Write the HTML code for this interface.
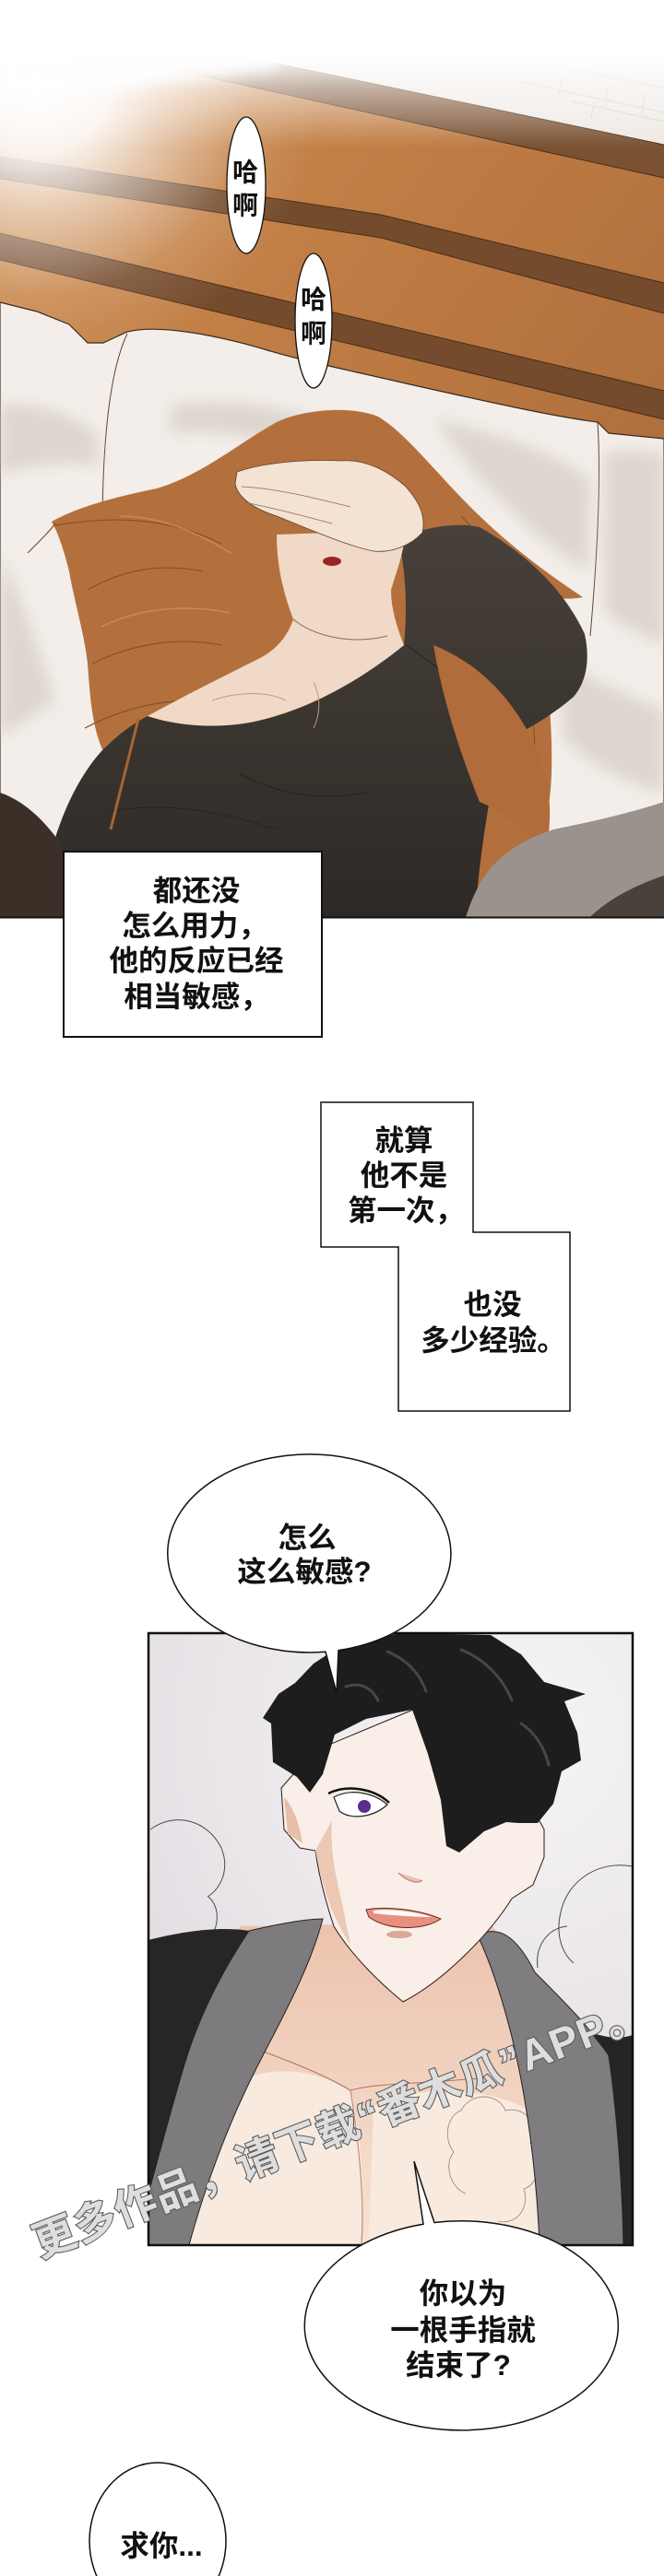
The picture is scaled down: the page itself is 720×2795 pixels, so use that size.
<!DOCTYPE html>
<html><head><meta charset="utf-8">
<style>
html,body{margin:0;padding:0;background:#fff}
svg{display:block}
text{font-family:"Liberation Sans","Noto Sans CJK SC",sans-serif;font-weight:bold;fill:#111}
</style></head>
<body>
<svg width="720" height="2795" viewBox="0 0 720 2795" xmlns="http://www.w3.org/2000/svg">
<defs>
  <linearGradient id="wood" x1="0" y1="0" x2="1" y2="1">
    <stop offset="0" stop-color="#d08f52"/>
    <stop offset="0.5" stop-color="#bb7841"/>
    <stop offset="1" stop-color="#a3673a"/>
  </linearGradient>
  <linearGradient id="fadeV" x1="0" y1="0" x2="0" y2="1">
    <stop offset="0" stop-color="#fff" stop-opacity="1"/>
    <stop offset="0.375" stop-color="#fff" stop-opacity="1"/>
    <stop offset="0.6" stop-color="#fff" stop-opacity="0.55"/>
    <stop offset="1" stop-color="#fff" stop-opacity="0"/>
  </linearGradient>
  <radialGradient id="fadeL" cx="40" cy="90" r="310" gradientUnits="userSpaceOnUse">
    <stop offset="0" stop-color="#fff" stop-opacity="1"/>
    <stop offset="0.25" stop-color="#fff" stop-opacity="0.9"/>
    <stop offset="0.45" stop-color="#fff" stop-opacity="0.55"/>
    <stop offset="0.75" stop-color="#fff" stop-opacity="0.12"/>
    <stop offset="1" stop-color="#fff" stop-opacity="0"/>
  </radialGradient>
  <linearGradient id="cloth" x1="0" y1="0" x2="0" y2="1">
    <stop offset="0" stop-color="#48413b"/>
    <stop offset="1" stop-color="#2e2925"/>
  </linearGradient>
  <radialGradient id="bg2" cx="560" cy="1880" r="560" gradientUnits="userSpaceOnUse">
    <stop offset="0" stop-color="#f6f4f6"/>
    <stop offset="0.6" stop-color="#e9e5e9"/>
    <stop offset="1" stop-color="#dcd7dc"/>
  </radialGradient>
  <linearGradient id="chest" x1="0" y1="0" x2="0" y2="1">
    <stop offset="0" stop-color="#ecc3ad"/>
    <stop offset="1" stop-color="#f6e2d3"/>
  </linearGradient>
  <filter id="blur" x="-20%" y="-20%" width="140%" height="140%"><feGaussianBlur stdDeviation="8"/></filter>
  <clipPath id="c1"><rect x="0" y="0" width="720" height="995"/></clipPath>
  <clipPath id="c2"><rect x="161" y="1772" width="525" height="664"/></clipPath>
</defs>

<rect x="0" y="0" width="720" height="2795" fill="#fff"/>

<!-- ================= PANEL 1 ================= -->
<g clip-path="url(#c1)">
  <rect x="0" y="0" width="720" height="995" fill="url(#wood)"/>
  <polygon points="0,0 720,0 720,157 0,6" fill="#eee9e4"/>
  <g stroke="#d8cfc6" stroke-width="1" fill="none">
    <path d="M560,88 L720,122 M600,70 L720,96 M620,110 L720,132 M610,80 L606,104 M660,92 L656,116 M700,101 L696,125 M645,110 L641,128"/>
  </g>
  <polygon points="0,6 720,157 720,193 0,34" fill="#7a5132"/>
  <polygon points="0,170 413,233 720,307 720,340 413,258 0,194" fill="#744b2c"/>
  <polygon points="0,253 720,424 720,455 0,282" fill="#744b2c"/>
  <g stroke="#4a2e1a" stroke-width="1" fill="none">
    <line x1="0" y1="6" x2="720" y2="157"/>
    <line x1="0" y1="34" x2="720" y2="193"/>
    <polyline points="0,170 413,233 720,307"/>
    <polyline points="0,194 413,258 720,340"/>
    <line x1="0" y1="253" x2="720" y2="424"/>
    <line x1="0" y1="282" x2="720" y2="455"/>
  </g>
  <!-- white fade -->
  <rect x="0" y="0" width="720" height="160" fill="url(#fadeV)"/>
  <rect x="0" y="0" width="720" height="420" fill="url(#fadeL)"/>
  <polygon points="0,0 300,0 300,75 0,110" fill="#fff" opacity="0.9" filter="url(#blur)"/>

  <!-- bed / pillows -->
  <path d="M0,328 L40,338 L75,352 L95,372 L112,372 L125,366 L138,360 C170,352 230,362 290,380 C330,392 380,402 440,416 C520,434 600,452 648,458 L660,470 L720,476 L720,995 L0,995 Z" fill="#f3eee9" stroke="#3b2a1e" stroke-width="1.2"/>
  <path d="M138,362 C120,400 112,470 111,560 C111,600 113,630 116,650" stroke="#5a4535" stroke-width="1" fill="none"/>
  <path d="M648,458 C652,520 648,600 640,690" stroke="#5a4535" stroke-width="1" fill="none"/>
  <g filter="url(#blur)" fill="#cfc6be" opacity="0.6">
    <path d="M0,440 C30,435 70,445 105,470 L108,505 C70,500 30,505 0,515 Z"/>
    <path d="M185,440 C240,430 300,440 340,455 L300,482 C260,472 220,464 185,472 Z"/>
    <path d="M470,455 C540,470 600,490 640,520 L638,620 C600,600 560,560 520,520 Z"/>
    <path d="M655,490 L720,490 L720,700 C700,690 670,680 655,660 Z"/>
    <path d="M0,600 C20,640 40,700 60,760 L0,800 Z"/>
    <path d="M610,720 C650,740 690,760 720,770 L720,860 C680,850 640,830 610,800 Z"/>
  </g>

  <!-- woman: back hair -->
  <path d="M56,566 C80,552 120,540 170,530 C220,515 260,480 300,458 C330,444 380,440 410,452 C440,470 470,510 510,550 C550,590 590,620 632,648 C610,652 590,648 572,642 C590,700 600,770 598,840 C596,890 585,930 560,985 L470,990 L470,800 L120,830 C100,800 98,760 95,720 C92,690 80,650 75,620 C70,600 64,580 56,566 Z" fill="#b3703d"/>
  <g stroke="#86502c" stroke-width="1.2" fill="none">
    <path d="M60,570 C120,560 180,560 240,590"/>
    <path d="M95,640 C130,620 170,610 220,620"/>
    <path d="M100,720 C140,700 190,690 240,700"/>
    <path d="M92,790 C130,770 170,760 210,760"/>
    <path d="M500,560 C540,600 570,640 590,700"/>
    <path d="M560,700 C580,760 585,820 575,880"/>
    <path d="M30,600 C45,585 55,575 60,568"/>
  </g>
  <g stroke="#cf915b" stroke-width="1.5" fill="none" opacity="0.8">
    <path d="M130,560 C170,560 210,575 250,600"/>
    <path d="M110,680 C150,660 200,655 250,665"/>
  </g>
  <!-- clothes -->
  <path d="M40,995 C50,930 70,860 110,815 C130,795 145,785 160,777 C200,790 245,790 280,782 C340,768 395,735 438,700 C442,660 440,620 432,585 C460,572 495,566 520,572 C570,600 612,640 634,688 C640,715 636,740 622,756 C600,775 575,790 545,805 C530,860 520,930 515,995 Z" fill="url(#cloth)"/>
  <g stroke="#22201d" stroke-width="1" fill="none" opacity="0.8">
    <path d="M120,880 C180,870 240,880 300,900"/>
    <path d="M260,840 C300,860 340,870 400,860"/>
    <path d="M440,700 C470,720 500,740 545,805"/>
  </g>
  <path d="M470,700 C520,720 560,760 585,820 C600,860 598,900 590,930 C570,900 545,880 520,870 C500,820 480,760 470,700 Z" fill="#b06c3a"/>
  <path d="M150,780 C140,820 130,860 120,900" stroke="#a86537" stroke-width="3" fill="none"/>
  <!-- skin -->
  <path d="M300,580 C300,620 310,650 318,672 C312,690 300,705 280,715 C240,735 200,755 160,777 C200,790 245,790 280,782 C340,768 395,735 438,700 C430,680 424,660 424,640 C430,620 438,600 440,575 Z" fill="#f0d9c6"/>
  <path d="M318,672 C340,690 380,700 420,690" stroke="#8a6a55" stroke-width="1" fill="none"/>
  <path d="M230,760 C260,750 290,750 310,760 M340,740 C350,760 345,780 340,790" stroke="#c09a85" stroke-width="1" fill="none"/>
  <!-- hand -->
  <path d="M257,512 C285,502 330,498 370,500 C395,498 420,510 440,528 C455,545 462,560 458,578 C445,592 425,600 405,598 C375,592 330,572 300,560 C275,552 258,540 255,525 Z" fill="#f4e2d2" stroke="#5c4030" stroke-width="0.8"/>
  <path d="M262,528 C300,530 340,540 380,550 M265,545 C300,552 330,560 360,568" stroke="#8a6a55" stroke-width="0.8" fill="none"/>
  <ellipse cx="360" cy="609" rx="10" ry="5" fill="#9b2525"/>
  <!-- bottom areas -->
  <path d="M0,860 C30,870 60,900 80,940 L90,995 L0,995 Z" fill="#3b2f28"/>
  <path d="M505,995 C520,950 540,920 600,900 C650,890 690,880 720,870 L720,995 Z" fill="#9a938d"/>
  <path d="M640,995 C660,975 690,960 720,950 L720,995 Z" fill="#4a413a"/>
</g>
<line x1="0" y1="995.5" x2="720" y2="995.5" stroke="#111" stroke-width="2"/>

<!-- "哈啊" bubbles -->
<ellipse cx="267" cy="201" rx="21" ry="74" fill="#fff" stroke="#111" stroke-width="1.3"/>
<text x="266" y="187" font-size="28" text-anchor="middle" dominant-baseline="central">哈</text>
<text x="266" y="223" font-size="28" text-anchor="middle" dominant-baseline="central">啊</text>
<ellipse cx="340" cy="348" rx="20" ry="73" fill="#fff" stroke="#111" stroke-width="1.3"/>
<text x="340" y="325" font-size="28" text-anchor="middle" dominant-baseline="central">哈</text>
<text x="340" y="362" font-size="28" text-anchor="middle" dominant-baseline="central">啊</text>

<!-- Text box 1 -->
<rect x="69" y="924" width="280" height="201" fill="#fff" stroke="#111" stroke-width="2"/>
<g font-size="31.5" text-anchor="middle">
  <text x="213" y="966" dominant-baseline="central">都还没</text>
  <text x="211" y="1004" dominant-baseline="central">怎么用力，</text>
  <text x="213" y="1042" dominant-baseline="central">他的反应已经</text>
  <text x="213" y="1081" dominant-baseline="central">相当敏感，</text>
</g>

<!-- Text box 2 -->
<polygon points="348,1196 513,1196 513,1337 618,1337 618,1531 432,1531 432,1353 348,1353" fill="#fff" stroke="#111" stroke-width="1.5"/>
<g font-size="31.5" text-anchor="middle">
  <text x="438" y="1237" dominant-baseline="central">就算</text>
  <text x="438" y="1275" dominant-baseline="central">他不是</text>
  <text x="440" y="1313" dominant-baseline="central">第一次，</text>
  <text x="534" y="1415" dominant-baseline="central">也没</text>
  <text x="535" y="1454" dominant-baseline="central">多少经验。</text>
</g>

<!-- ================= PANEL 2 ================= -->
<g clip-path="url(#c2)">
  <rect x="161" y="1772" width="525" height="664" fill="url(#bg2)"/>
  <g stroke="#4a4a4a" stroke-width="1" fill="none">
    <path d="M163,1985 C190,1965 225,1975 240,2005 C250,2030 238,2050 225,2058"/>
    <path d="M226,2058 C240,2070 238,2095 222,2110"/>
    <path d="M168,2140 C185,2150 205,2140 215,2125"/>
    <path d="M686,2025 C650,2018 615,2040 608,2075 C602,2100 610,2120 622,2130"/>
    <path d="M615,2090 C595,2092 580,2110 583,2135"/>
  </g>
  <polygon points="260,2090 530,2085 565,2130 585,2250 592,2436 185,2436 200,2320 225,2200" fill="url(#chest)"/>
  <path d="M215,2290 C260,2240 330,2235 380,2270 C395,2330 395,2390 390,2436 L200,2436 Z" fill="#f8eadf"/>
  <path d="M405,2285 C450,2265 520,2260 575,2290 L585,2436 L400,2436 Z" fill="#f8eadf"/>
  <path d="M380,2268 C390,2330 395,2390 392,2436" stroke="#c98a78" stroke-width="1.2" fill="none"/>
  <path d="M270,2220 C310,2235 350,2250 380,2268 C410,2260 440,2262 520,2255" stroke="#b8705e" stroke-width="1" fill="none"/>
  <path d="M500,2290 C510,2270 540,2270 548,2290 C570,2285 585,2305 575,2325 C590,2340 585,2370 568,2375 C575,2395 560,2415 540,2410 M500,2290 C485,2295 480,2320 492,2335 C480,2350 490,2375 505,2380" stroke="#a88878" stroke-width="0.9" fill="none"/>
  <path d="M161,2105 C200,2095 240,2090 270,2095 C240,2140 215,2190 200,2240 C185,2290 172,2340 161,2380 Z" fill="#262626"/>
  <path d="M270,2095 C300,2088 330,2082 350,2082 C335,2140 300,2200 275,2250 C245,2310 220,2380 205,2436 L161,2436 L161,2380 C172,2340 185,2290 200,2240 C215,2190 240,2140 270,2095 Z" fill="#7d7b7e" stroke="#222" stroke-width="1"/>
  <path d="M518,2100 C540,2088 560,2100 580,2140 C610,2170 640,2200 660,2230 C670,2300 675,2380 676,2436 L585,2436 C582,2360 572,2280 555,2210 C545,2170 532,2130 518,2100 Z" fill="#7f7d80" stroke="#222" stroke-width="1"/>
  <path d="M640,2205 C660,2212 675,2212 686,2208 L686,2436 L676,2436 C675,2380 670,2300 660,2230 Z" fill="#252525"/>
  <!-- face -->
  <path d="M305,1940 L340,1900 L460,1850 L560,1930 L590,1985 L590,2015 L578,2045 L555,2060 C530,2100 480,2150 437,2172 C410,2150 380,2120 362,2090 C352,2060 345,2030 342,2008 L325,2005 L308,1985 Z" fill="#f9efe8" stroke="#2a1a14" stroke-width="1"/>
  <path d="M342,2008 C350,2050 360,2080 380,2110 L370,2060 C362,2030 358,2000 360,1975 Z" fill="#ecc8b5"/>
  <path d="M308,1950 C318,1960 325,1980 328,2000 L312,1990 Z" fill="#e7bfa9"/>
  <path d="M362,1950 C380,1940 405,1945 420,1958 C405,1972 380,1975 368,1965 Z" fill="#fff" stroke="#222" stroke-width="1.2"/>
  <circle cx="395" cy="1960" r="7" fill="#5b2d8e"/>
  <path d="M356,1946 C375,1936 405,1940 422,1956" stroke="#111" stroke-width="2.5" fill="none"/>
  <path d="M488,1975 C500,1968 515,1968 528,1975 C515,1990 500,1992 490,1985 Z" fill="#fff" stroke="#222" stroke-width="1.2"/>
  <circle cx="506" cy="1980" r="6" fill="#5b2d8e"/>
  <path d="M432,2032 C440,2040 452,2045 458,2040" stroke="#c49080" stroke-width="1.5" fill="#e8c2b2"/>
  <path d="M397,2072 C420,2068 455,2072 478,2082 C460,2095 420,2095 400,2080 Z" fill="#e8907e" stroke="#6a2a20" stroke-width="1"/>
  <path d="M405,2073 C425,2071 450,2074 468,2080 C450,2080 425,2078 405,2076 Z" fill="#fff"/>
  <ellipse cx="433" cy="2099" rx="14" ry="4" fill="#d8a898"/>
  <!-- hair -->
  <path d="M363,1790 L400,1776 L440,1772 L532,1774 L565,1795 L590,1825 L635,1838 L612,1846 L626,1880 L630,1910 L609,1922 L600,1957 L583,1978 L562,1978 L549,1977 L525,1987 L498,2010 L484,2003 L478,1953 L464,1903 L447,1855 L397,1865 L363,1882 L350,1925 L336,1945 L322,1928 L296,1912 L294,1870 L285,1864 L302,1838 L320,1826 L340,1805 Z" fill="#1d1d1d"/>
  <g stroke="#474747" stroke-width="3" fill="none" stroke-linecap="round">
    <path d="M420,1792 C440,1800 455,1815 462,1835"/>
    <path d="M500,1790 C525,1800 545,1820 555,1845"/>
    <path d="M375,1830 C390,1825 402,1830 410,1845"/>
    <path d="M565,1870 C580,1880 590,1895 595,1915"/>
  </g>
</g>
<rect x="161" y="1772" width="525" height="664" fill="none" stroke="#111" stroke-width="2.5"/>

<!-- watermark -->
<text x="369" y="2308" font-size="46" text-anchor="middle" dominant-baseline="central" transform="rotate(-21 369 2308)" style="fill:#dedede;stroke:#5d5d5d;stroke-width:2.2px;paint-order:stroke" letter-spacing="1">更多作品，请下载“番木瓜”APP。</text>

<!-- bubble: 怎么这么敏感? -->
<path d="M353,1792.2 A153.5 107.5 0 1 1 367,1790.6 L365,1837 Z" fill="#fff" stroke="#111" stroke-width="1.5"/>
<g font-size="31.5" text-anchor="middle">
  <text x="333" y="1668" dominant-baseline="central">怎么</text>
  <text x="330" y="1705" dominant-baseline="central">这么敏感?</text>
</g>

<!-- bubble: 你以为... -->
<path d="M471,2411.5 A170 113.5 0 1 1 459,2413.2 L449,2345 Z" fill="#fff" stroke="#111" stroke-width="1.5"/>
<g font-size="31.5" text-anchor="middle">
  <text x="502" y="2488" dominant-baseline="central">你以为</text>
  <text x="502" y="2528" dominant-baseline="central">一根手指就</text>
  <text x="497" y="2566" dominant-baseline="central">结束了?</text>
</g>

<!-- bubble: 求你... -->
<ellipse cx="171" cy="2757" rx="74" ry="85" fill="#fff" stroke="#111" stroke-width="1.5"/>
<text x="175" y="2762" font-size="31.5" text-anchor="middle" dominant-baseline="central">求你...</text>
</svg>
</body></html>
